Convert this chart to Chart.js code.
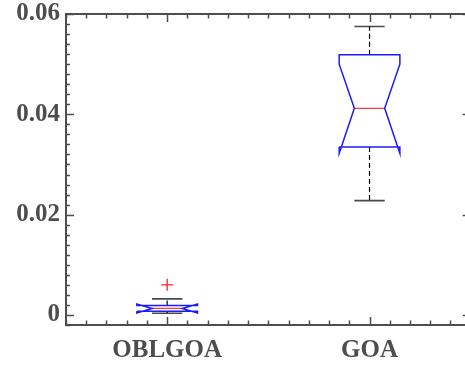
<!DOCTYPE html>
<html>
<head>
<meta charset="utf-8">
<script src="https://cdn.jsdelivr.net/npm/chart.js@4/dist/chart.umd.min.js"></script>
<style>
html,body{margin:0;padding:0;background:#fff;overflow:hidden;}
#wrap{width:478px;height:370px;}
</style>
</head>
<body>
<div id="wrap"><canvas id="c" width="478" height="370"></canvas></div>
<script>
// ---- data ----
const categories   = ['OBLGOA', 'GOA'];
const lowerWhisker = [0.00035, 0.0228];
const q1           = [0.00075, 0.0335];
const median       = [0.0013, 0.0412];
const q3           = [0.0019, 0.0519];
const upperWhisker = [0.0032, 0.0575];
const notchLow     = [0.0004, 0.0322];
const notchHigh    = [0.0022, 0.0500];
const outliers     = [[0.006], []];
const yTicks       = [0, 0.02, 0.04, 0.06];

// ---- styling constants ----
const BOX_HALF = 0.15, NOTCH_HALF = 0.075, CAP_HALF = 0.075;
const AXIS_COLOR = '#4d4d4d';
const FONT = {family: "'Liberation Serif', 'Times New Roman', serif", size: 25, weight: 'bold'};

const datasets = [];
categories.forEach((cat, i) => {
  const c = i + 1;
  const L = c - BOX_HALF, R = c + BOX_HALF, l = c - NOTCH_HALF, r = c + NOTCH_HALF;
  // notched box outline
  datasets.push({
    data: [
      {x: L, y: q1[i]}, {x: L, y: notchLow[i]}, {x: l, y: median[i]}, {x: L, y: notchHigh[i]}, {x: L, y: q3[i]},
      {x: R, y: q3[i]}, {x: R, y: notchHigh[i]}, {x: r, y: median[i]}, {x: R, y: notchLow[i]}, {x: R, y: q1[i]},
      {x: L, y: q1[i]}
    ],
    borderColor: '#1a1aff', borderWidth: 1.5, showLine: true, pointRadius: 0, fill: false
  });
  // median
  datasets.push({
    data: [{x: l, y: median[i]}, {x: r, y: median[i]}],
    borderColor: '#ff3b3b', borderWidth: 1.3, showLine: true, pointRadius: 0
  });
  // whiskers (dashed)
  datasets.push({
    data: [{x: c, y: q3[i]}, {x: c, y: upperWhisker[i]}],
    borderColor: '#000', borderWidth: 1.2, borderDash: [5, 3], showLine: true, pointRadius: 0
  });
  datasets.push({
    data: [{x: c, y: q1[i]}, {x: c, y: lowerWhisker[i]}],
    borderColor: '#000', borderWidth: 1.2, borderDash: [5, 3], showLine: true, pointRadius: 0
  });
  // caps
  datasets.push({
    data: [{x: c - CAP_HALF, y: upperWhisker[i]}, {x: c + CAP_HALF, y: upperWhisker[i]}],
    borderColor: '#4a4a4a', borderWidth: 1.6, showLine: true, pointRadius: 0
  });
  datasets.push({
    data: [{x: c - CAP_HALF, y: lowerWhisker[i]}, {x: c + CAP_HALF, y: lowerWhisker[i]}],
    borderColor: '#4a4a4a', borderWidth: 1.6, showLine: true, pointRadius: 0
  });
  // outliers
  if (outliers[i].length) {
    datasets.push({
      data: outliers[i].map(v => ({x: c, y: v})),
      showLine: false, pointStyle: 'cross', pointRadius: 6, borderColor: '#ff2020', borderWidth: 1.3,
      backgroundColor: '#ff2020'
    });
  }
});

const frame = {
  id: 'frame',
  afterDraw(chart) {
    const {ctx, chartArea: a, scales: {x, y}} = chart;
    ctx.save();
    ctx.strokeStyle = AXIS_COLOR;
    ctx.lineWidth = 2;
    ctx.strokeRect(a.left, a.top, a.right - a.left, a.bottom - a.top);
    ctx.lineWidth = 1.5;
    ctx.beginPath();
    // y ticks (major + minor), left and right, pointing inward
    for (let k = -1; k <= 30; k++) {
      const v = k * 0.002;
      const major = yTicks.some(t => Math.abs(t - v) < 1e-9);
      const len = major ? 8 : 4;
      const py = Math.round(y.getPixelForValue(v)) + 0.5;
      ctx.moveTo(a.left, py); ctx.lineTo(a.left + len, py);
      ctx.moveTo(a.right, py); ctx.lineTo(a.right - len, py);
    }
    // x ticks
    for (let k = 5; k <= 25; k++) {
      const v = k / 10;
      const major = k % 10 === 0;
      const len = major ? 8 : 4.5;
      const px = Math.round(x.getPixelForValue(v)) + 0.5;
      ctx.moveTo(px, a.bottom); ctx.lineTo(px, a.bottom - len);
      ctx.moveTo(px, a.top); ctx.lineTo(px, a.top + len);
    }
    ctx.stroke();
    ctx.restore();
  }
};

new Chart(document.getElementById('c'), {
  type: 'scatter',
  data: {datasets},
  options: {
    responsive: false,
    animation: false,
    events: [],
    layout: {padding: {top: 14, right: 6, left: 0, bottom: 0}},
    plugins: {legend: {display: false}, tooltip: {enabled: false}},
    scales: {
      x: {
        type: 'linear', min: 0.5, max: 2.5,
        grid: {display: false, drawTicks: false}, border: {display: false},
        afterFit: s => { s.height = 45; s.paddingLeft = 0; s.paddingRight = 0; },
        afterBuildTicks: s => { s.ticks = categories.map((_, i) => ({value: i + 1})); },
        ticks: {
          color: AXIS_COLOR, font: FONT, padding: 11, maxRotation: 0, autoSkip: false,
          callback: v => categories[Math.round(v) - 1] || ''
        }
      },
      y: {
        type: 'linear', min: -0.002, max: 0.06,
        grid: {display: false, drawTicks: false}, border: {display: false},
        afterFit: s => { s.width = 66; s.paddingTop = 0; s.paddingBottom = 0; },
        afterBuildTicks: s => { s.ticks = yTicks.map(v => ({value: v})); },
        ticks: {
          color: AXIS_COLOR, font: FONT, padding: 6,
          callback: v => String(+v.toFixed(2))
        }
      }
    }
  },
  plugins: [frame]
});
</script>
</body>
</html>
